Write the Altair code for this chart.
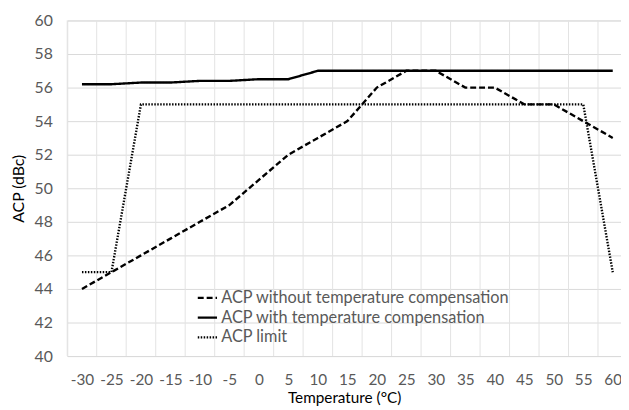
import altair as alt
import pandas as pd

temps = [-30, -25, -20, -15, -10, -5, 0, 5, 10, 15, 20, 25, 30, 35, 40, 45, 50, 55, 60]
acp_without = [44, 45, 46, 47, 48, 49, 50.5, 52, 53, 54, 56, 57, 57, 56, 56, 55, 55, 54, 53]
acp_with = [56.2, 56.2, 56.3, 56.3, 56.4, 56.4, 56.5, 56.5, 57, 57, 57, 57, 57, 57, 57, 57, 57, 57, 57]
acp_limit = [45, 45, 55, 55, 55, 55, 55, 55, 55, 55, 55, 55, 55, 55, 55, 55, 55, 55, 45]
series_names = [
    "ACP without temperature compensation",
    "ACP with temperature compensation",
    "ACP limit",
]
category_bounds = [-32.5, -27.5, -22.5, -17.5, -12.5, -7.5, -2.5, 2.5, 7.5, 12.5,
                   17.5, 22.5, 27.5, 32.5, 37.5, 42.5, 47.5, 52.5, 57.5]

rows = []
for name, vals in zip(series_names, [acp_without, acp_with, acp_limit]):
    for t, v in zip(temps, vals):
        rows.append({"T": t, "ACP": v, "series": name})
df = pd.DataFrame(rows)
grid_df = pd.DataFrame({"b": category_bounds})

FONT = "Lato"
xscale = alt.Scale(domain=[-32.5, 61.4], nice=False, zero=False)
yscale = alt.Scale(domain=[40, 60], nice=False, zero=False)

xaxis = alt.Axis(values=temps, grid=False, domain=False, ticks=False,
                 labelFontSize=15.5, labelColor="#595959", labelFont=FONT,
                 labelPadding=17, labelExpr="'' + datum.value",
                 title="Temperature (°C)",
                 titleFont=FONT, titleFontSize=15.5, titleFontWeight="normal",
                 titleColor="#000000", titlePadding=3, labelFlush=False,
                 labelOverlap=False)

vgrid = alt.Chart(grid_df).mark_rule(color="#e3e3e3", strokeWidth=1).encode(
    x=alt.X("b:Q", scale=xscale, axis=xaxis)
)

lines = alt.Chart(df).mark_line(color="black", strokeCap="butt").encode(
    x=alt.X("T:Q", scale=xscale, axis=xaxis),
    y=alt.Y("ACP:Q", scale=yscale,
            axis=alt.Axis(values=list(range(40, 61, 2)), grid=True, gridColor="#d9d9d9",
                          domain=False, ticks=False, labelFontSize=16,
                          labelColor="#595959", labelFont=FONT, labelPadding=15,
                          title="ACP (dBc)", titleFont=FONT, titleFontSize=16,
                          titleFontWeight="normal", titleColor="#000000",
                          titlePadding=8)),
    strokeDash=alt.StrokeDash(
        "series:N",
        scale=alt.Scale(domain=series_names, range=[[6, 3], [1, 0], [1.5, 1.5]]),
        legend=alt.Legend(title=None, orient="none", legendX=129, legendY=270,
                          symbolType="stroke", symbolSize=380, symbolStrokeWidth=2.2,
                          symbolStrokeColor="black", labelFont=FONT,
                          labelFontSize=16.5, labelColor="#595959", labelOffset=3,
                          labelLimit=500, rowPadding=0, symbolOffset=2),
    ),
    strokeWidth=alt.StrokeWidth(
        "series:N",
        scale=alt.Scale(domain=series_names, range=[2.4, 2.4, 1.6]),
        legend=None,
    ),
    order=alt.Order("T:Q"),
)

chart = alt.layer(vgrid, lines).properties(
    width=561, height=340,
    autosize=alt.AutoSizeParams(type="none"),
    padding={"left": 60, "top": 10, "right": 0, "bottom": 52},
).configure_view(stroke=None).configure(background="white")

chart.save("out.html", embed_options={"renderer": "svg", "actions": False})
